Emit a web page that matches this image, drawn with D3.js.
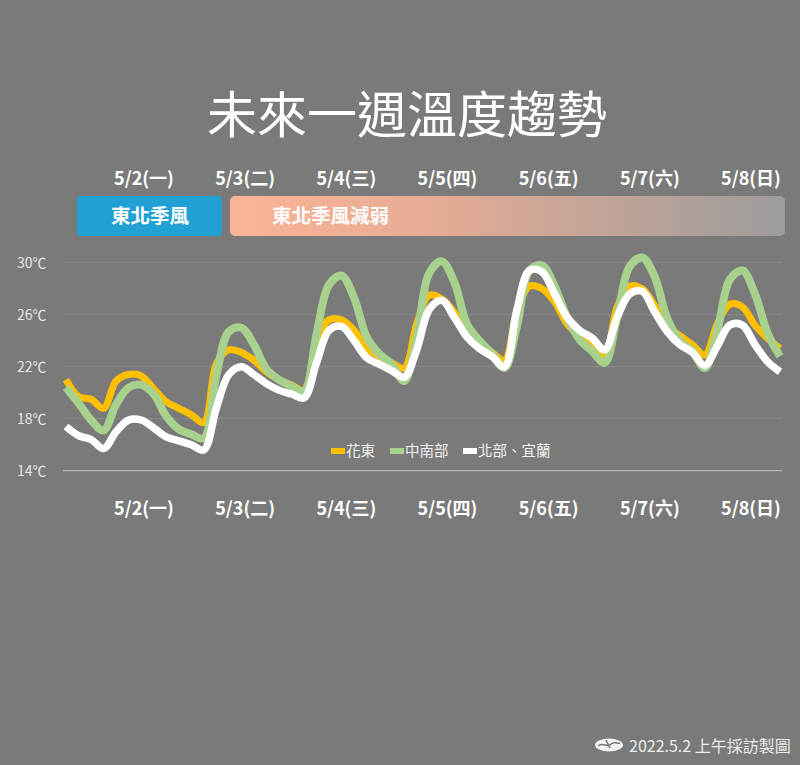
<!DOCTYPE html>
<html>
<head>
<meta charset="utf-8">
<script src="https://cdn.jsdelivr.net/npm/d3@7"></script>
<style>
  html, body { margin: 0; padding: 0; background: #7a7a7a; }
  svg { display: block; }
  text { font-family: "Noto Sans CJK TC", "Noto Sans", sans-serif; }
</style>
</head>
<body>
<svg id="chart" width="800" height="765"></svg>
<script>
// ---------- data ----------
const title = "未來一週溫度趨勢";
const days = ["5/2(一)", "5/3(二)", "5/4(三)", "5/5(四)", "5/6(五)", "5/7(六)", "5/8(日)"];
const phases = ["東北季風", "東北季風減弱"];
const yTicks = [14, 18, 22, 26, 30];
const yTickLabels = ["14℃", "18℃", "22℃", "26℃", "30℃"];
const seriesNames = ["花東", "中南部", "北部、宜蘭"];
const seriesColors = ["#ffc000", "#a9d18e", "#ffffff"];

// 3-hourly temperatures (°C)
const hualien = [21.0, 19.7, 19.5, 18.8, 20.9, 21.4, 21.3, 20.3, 19.3, 18.8, 18.3, 17.7,
  22.2, 23.3, 23.1, 22.5, 21.6, 21.0, 20.6, 20.2,
  24.0, 25.6, 25.6, 24.8, 23.4, 22.8, 22.3, 21.9,
  25.3, 27.5, 27.2, 26.2, 24.8, 23.9, 23.1, 22.5,
  26.3, 28.2, 28.0, 27.0, 25.3, 24.4, 23.7, 22.9,
  26.6, 28.2, 28.0, 26.7, 25.1, 24.4, 23.7, 22.9,
  25.3, 26.8, 26.6, 25.2, 24.2, 23.4];
const central = [20.4, 19.2, 17.9, 17.1, 19.1, 20.4, 20.6, 19.9, 18.2, 17.2, 16.8, 16.5,
  21.3, 24.7, 25.0, 23.7, 21.8, 21.0, 20.5, 20.1,
  24.5, 28.3, 29.0, 27.3, 24.3, 23.0, 22.2, 20.9,
  24.3, 29.2, 30.1, 28.5, 25.3, 24.0, 23.0, 21.9,
  25.1, 29.4, 29.8, 28.2, 25.8, 24.1, 23.2, 22.3,
  25.8, 29.7, 30.4, 28.9, 25.7, 24.0, 23.2, 21.9,
  24.8, 28.7, 29.4, 27.6, 24.6, 22.8];
const north = [17.4, 16.7, 16.4, 15.7, 17.0, 17.9, 17.9, 17.3, 16.6, 16.3, 16.0, 15.6,
  18.8, 21.4, 22.0, 21.4, 20.7, 20.2, 19.9, 19.6,
  22.3, 24.8, 25.1, 24.0, 22.7, 22.2, 21.7, 21.2,
  23.3, 26.4, 27.1, 25.8, 24.3, 23.4, 22.8, 22.0,
  26.4, 29.4, 29.3, 27.6, 25.8, 24.8, 24.2, 23.3,
  25.8, 27.6, 27.8, 26.2, 24.7, 23.7, 23.1, 22.1,
  23.6, 25.2, 25.2, 23.7, 22.4, 21.6];
const footerText = "2022.5.2 上午採訪製圖";

// ---------- layout ----------
const svg = d3.select("#chart");
const W = 800, H = 765;
svg.append("rect").attr("width", W).attr("height", H).attr("fill", "#7a7a7a");

const x = d3.scaleLinear().domain([0, hualien.length - 1]).range([66, 780]);
const y = d3.scaleLinear().domain([14, 30]).range([470.7, 262.7]);
const dayX = d3.scalePoint().domain(days).range([144, 751]);

// title
svg.append("text")
  .attr("x", 407).attr("y", 133)
  .attr("text-anchor", "middle")
  .attr("fill", "#ffffff")
  .attr("font-size", 50)
  .attr("font-weight", 400)
  .text(title);

// top date labels
svg.append("g").selectAll("text").data(days).join("text")
  .attr("x", d => dayX(d)).attr("y", 185)
  .attr("text-anchor", "middle")
  .attr("fill", "#ffffff")
  .attr("font-size", 18)
  .attr("font-weight", 700)
  .text(d => d);

// banner
const defs = svg.append("defs");
const grad = defs.append("linearGradient").attr("id", "weak").attr("x1", "0%").attr("x2", "100%");
grad.append("stop").attr("offset", "0%").attr("stop-color", "#fbb497");
grad.append("stop").attr("offset", "35%").attr("stop-color", "#e7ac95");
grad.append("stop").attr("offset", "100%").attr("stop-color", "#9c9c9c");

svg.append("rect").attr("x", 77).attr("y", 196).attr("width", 145).attr("height", 40)
  .attr("rx", 4).attr("fill", "#21a1d3");
svg.append("rect").attr("x", 230).attr("y", 196).attr("width", 555).attr("height", 40)
  .attr("rx", 5).attr("fill", "url(#weak)");
svg.append("text").attr("x", 150).attr("y", 223).attr("text-anchor", "middle")
  .attr("fill", "#ffffff").attr("font-size", 19.5).attr("font-weight", 700).text(phases[0]);
svg.append("text").attr("x", 272).attr("y", 223).attr("text-anchor", "start")
  .attr("fill", "#ffffff").attr("font-size", 19.5).attr("font-weight", 700).text(phases[1]);

// gridlines
svg.append("g").selectAll("line").data(yTicks).join("line")
  .attr("x1", 63).attr("x2", 782)
  .attr("y1", d => y(d)).attr("y2", d => y(d))
  .attr("stroke", d => d === 14 ? "#c4c4c4" : "#8a8a8a")
  .attr("stroke-width", 1);

// y labels
svg.append("g").selectAll("text").data(yTicks).join("text")
  .attr("x", 17).attr("y", d => y(d) + 5)
  .attr("fill", "#e6e6e6")
  .attr("font-size", 14)
  .text((d, i) => yTickLabels[i]);

// lines
const line = d3.line()
  .x((d, i) => x(i))
  .y(d => y(d))
  .curve(d3.curveCatmullRom.alpha(0.5));
const allSeries = [hualien, central, north];
const widths = [7, 8, 7.5];
svg.append("g").selectAll("path").data(allSeries).join("path")
  .attr("d", d => line(d))
  .attr("fill", "none")
  .attr("stroke", (d, i) => seriesColors[i])
  .attr("stroke-width", (d, i) => widths[i])
  .attr("stroke-linejoin", "round");

// legend
const legendX = [331, 390, 463];
const lg = svg.append("g");
seriesNames.forEach((n, i) => {
  lg.append("rect").attr("x", legendX[i]).attr("y", 448).attr("width", 14).attr("height", 6)
    .attr("fill", seriesColors[i]);
  lg.append("text").attr("x", legendX[i] + 15).attr("y", 456)
    .attr("fill", "#f2f2f2").attr("font-size", 14.5).text(n);
});

// bottom date labels
svg.append("g").selectAll("text").data(days).join("text")
  .attr("x", d => dayX(d)).attr("y", 515)
  .attr("text-anchor", "middle")
  .attr("fill", "#ffffff")
  .attr("font-size", 18)
  .attr("font-weight", 700)
  .text(d => d);

// footer logo + text
const logo = svg.append("g").attr("transform", "translate(609,745)");
logo.append("ellipse").attr("rx", 14).attr("ry", 6.5).attr("fill", "#f2f2f2");
logo.append("path")
  .attr("d", "M-11,1 C-6,-4 -2,4 2,-1 C5,-4 8,-1 11,-2 M-3,-5 L1,3")
  .attr("fill", "none").attr("stroke", "#7a7a7a").attr("stroke-width", 1.6);
svg.append("text").attr("x", 629).attr("y", 752)
  .attr("fill", "#ececec").attr("font-size", 16).text(footerText);
</script>
</body>
</html>
